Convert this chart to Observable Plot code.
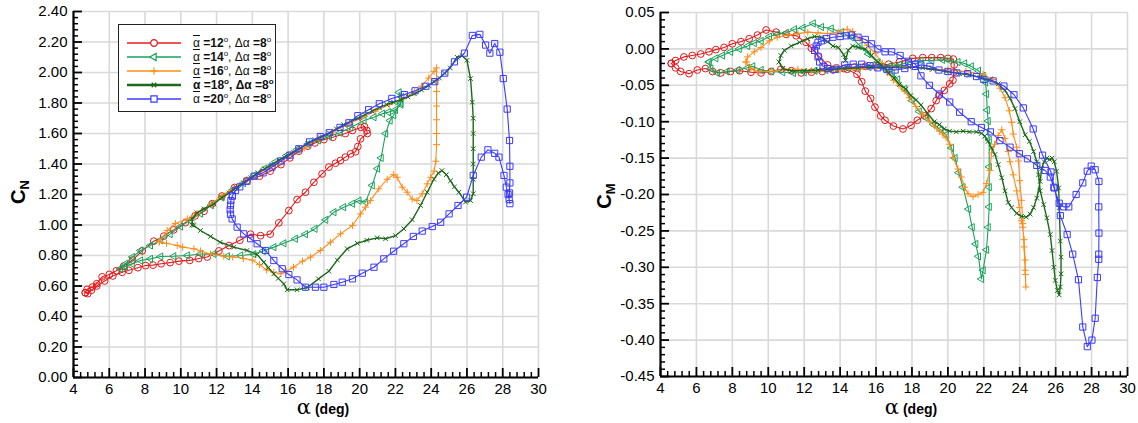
<!DOCTYPE html>
<html><head><meta charset="utf-8">
<script src="https://cdn.jsdelivr.net/npm/d3@7"></script>
<script src="https://cdn.jsdelivr.net/npm/@observablehq/plot@0.6"></script>
<style>
body{margin:0;background:#fff;}
#wrap{position:relative;width:1138px;height:423px;font-family:"Liberation Sans",Arial,sans-serif;}
.panel{position:absolute;top:0;}
#legend{position:absolute;left:118px;top:24px;width:156px;height:86px;border:1.5px solid #222;background:#fff;}
.row{position:absolute;left:0;height:14px;width:156px;}
.row svg{position:absolute;left:8px;top:0;}
.row .lab{position:absolute;left:74px;top:0;font-size:12px;line-height:14px;white-space:nowrap;color:#111;}
.ab{text-decoration:overline;}
.row sup{font-size:8px;vertical-align:top;line-height:8px;}
</style></head>
<body>
<div id="wrap">
  <div id="left" class="panel" style="left:0"></div>
  <div id="right" class="panel" style="left:569px"></div>
  <div id="legend"></div>
</div>
<script>
// ---------- axes / ticks ----------
const xDomain = [4, 30];
const xTicks = [4,6,8,10,12,14,16,18,20,22,24,26,28,30];
const yDomainN = [0, 2.4];
const yTicksN = [0,0.2,0.4,0.6,0.8,1.0,1.2,1.4,1.6,1.8,2.0,2.2,2.4];
const yDomainM = [-0.45, 0.05];
const yTicksM = [-0.45,-0.4,-0.35,-0.3,-0.25,-0.2,-0.15,-0.1,-0.05,0,0.05];

// ---------- series ----------
const meanAlpha = [12, 14, 16, 18, 20];
const colors = ["#e41a1c", "#19a35a", "#ff8c1a", "#1a6a1a", "#3b3bff"];

// C_N loops: [alpha, CN]
const loopN12 = [[4.66,0.556],[4.76,0.578],[5.06,0.593],[5.3,0.615],[5.6,0.66],[6.0,0.676],[6.4,0.70],[6.8,0.73],[7.3,0.77],[7.84,0.83],[8.49,0.894],[9.05,0.927],[9.6,0.968],[10.25,1.015],[10.8,1.06],[11.3,1.09],[11.76,1.14],[12.3,1.19],[13.0,1.245],[13.7,1.29],[14.4,1.32],[15.0,1.353],[15.6,1.396],[16.1,1.44],[16.6,1.484],[17.1,1.517],[17.5,1.538],[18.0,1.56],[18.5,1.575],[19.2,1.60],[19.6,1.62],[20.07,1.64],[20.27,1.645],[20.4,1.62],[20.43,1.60],[20.05,1.565],[19.9,1.515],[19.77,1.48],[19.5,1.467],[19.2,1.445],[18.93,1.423],[18.65,1.405],[18.28,1.38],[17.9,1.335],[17.44,1.28],[16.97,1.215],[16.5,1.167],[16.04,1.095],[15.48,1.014],[15.0,0.94],[14.46,0.93],[13.9,0.94],[13.3,0.90],[12.7,0.865],[12.13,0.83],[11.48,0.79],[11.0,0.78],[10.5,0.768],[9.89,0.763],[9.4,0.753],[8.9,0.746],[8.45,0.737],[8.03,0.734],[7.6,0.72],[7.1,0.703],[6.72,0.69],[6.2,0.666],[5.74,0.633],[5.3,0.60],[5.0,0.572],[4.8,0.55],[4.66,0.556]];
const loopN14 = [[6.63,0.713],[6.9,0.745],[7.3,0.79],[7.75,0.833],[8.3,0.866],[8.87,0.90],[9.4,0.94],[9.98,0.99],[10.5,1.03],[11.1,1.075],[11.7,1.13],[12.3,1.18],[12.9,1.23],[13.5,1.275],[14.1,1.325],[14.7,1.37],[15.3,1.415],[15.9,1.455],[16.5,1.495],[17.1,1.53],[17.7,1.555],[18.3,1.58],[18.9,1.605],[19.5,1.64],[20.24,1.685],[20.8,1.707],[21.27,1.73],[21.6,1.74],[22.0,1.755],[22.3,1.79],[22.35,1.84],[22.2,1.87],[22.3,1.80],[21.9,1.72],[21.7,1.685],[21.45,1.60],[21.2,1.44],[21.0,1.37],[20.7,1.26],[20.33,1.15],[19.96,1.16],[19.6,1.14],[19.1,1.117],[18.56,1.084],[18.1,1.034],[17.5,0.975],[16.97,0.94],[16.4,0.91],[15.76,0.88],[15.2,0.855],[14.6,0.83],[14.08,0.808],[13.34,0.80],[12.6,0.795],[11.85,0.81],[11.1,0.81],[10.36,0.80],[9.6,0.795],[8.87,0.793],[8.3,0.778],[7.75,0.767],[7.28,0.745],[6.9,0.728],[6.63,0.713]];
const loopN16 = [[8.8,0.89],[9.24,0.964],[9.7,1.01],[10.36,1.04],[10.9,1.075],[11.7,1.135],[12.3,1.19],[13.0,1.248],[13.7,1.298],[14.5,1.353],[15.3,1.40],[16.1,1.462],[16.9,1.505],[17.7,1.567],[18.5,1.61],[19.3,1.658],[20.07,1.70],[20.87,1.746],[21.66,1.79],[22.46,1.833],[23.06,1.872],[23.46,1.91],[23.86,1.964],[24.16,2.007],[24.3,2.03],[24.3,1.95],[24.3,1.876],[24.3,1.78],[24.3,1.69],[24.3,1.60],[24.3,1.527],[24.26,1.418],[24.16,1.353],[23.97,1.313],[23.78,1.27],[23.5,1.205],[23.2,1.16],[22.94,1.17],[22.66,1.215],[22.38,1.248],[22.1,1.313],[21.9,1.33],[21.54,1.30],[21.07,1.237],[20.6,1.16],[20.33,1.117],[20.05,1.073],[19.6,0.997],[18.93,0.942],[18.37,0.887],[17.8,0.833],[17.25,0.789],[16.8,0.763],[16.3,0.723],[15.9,0.695],[15.6,0.68],[15.2,0.69],[14.8,0.705],[14.4,0.74],[14.0,0.77],[13.5,0.78],[12.9,0.79],[12.4,0.796],[11.66,0.81],[11.1,0.83],[10.73,0.844],[10.1,0.855],[9.8,0.866],[9.2,0.88],[8.8,0.89]];
const loopN18 = [[10.64,1.0],[10.64,1.04],[10.9,1.08],[11.3,1.106],[11.85,1.138],[12.3,1.18],[12.7,1.21],[13.1,1.245],[13.5,1.277],[13.9,1.31],[14.3,1.342],[14.7,1.37],[15.1,1.396],[15.5,1.425],[15.9,1.451],[16.3,1.478],[16.7,1.505],[17.1,1.535],[17.5,1.56],[17.9,1.58],[18.3,1.604],[18.7,1.63],[19.1,1.658],[19.5,1.68],[19.9,1.70],[20.3,1.724],[20.7,1.746],[21.1,1.77],[21.5,1.79],[21.9,1.805],[22.3,1.822],[22.7,1.84],[23.06,1.86],[23.46,1.885],[23.86,1.915],[24.16,1.94],[24.46,1.964],[24.76,1.995],[25.06,2.03],[25.45,2.10],[25.73,2.11],[26.0,2.08],[26.2,1.96],[26.3,1.805],[26.35,1.70],[26.35,1.60],[26.35,1.50],[26.35,1.40],[26.35,1.30],[26.35,1.205],[26.2,1.16],[25.92,1.15],[25.55,1.215],[25.3,1.25],[25.08,1.29],[24.85,1.33],[24.6,1.357],[24.4,1.34],[24.15,1.30],[23.78,1.215],[23.4,1.128],[22.94,1.034],[22.47,0.975],[22.0,0.93],[21.45,0.91],[20.98,0.916],[20.4,0.90],[19.87,0.88],[19.3,0.844],[18.75,0.77],[18.28,0.697],[17.7,0.647],[17.07,0.59],[16.5,0.575],[15.95,0.575],[15.76,0.614],[15.45,0.65],[15.2,0.68],[14.9,0.72],[14.64,0.756],[14.27,0.806],[13.7,0.833],[12.96,0.855],[12.2,0.887],[11.66,0.925],[11.1,0.964],[10.73,0.997],[10.64,1.0]];
const loopN20 = [[12.88,1.19],[13.06,1.226],[13.3,1.25],[13.7,1.287],[14.1,1.32],[14.6,1.342],[15.1,1.38],[15.6,1.42],[16.1,1.458],[16.6,1.50],[17.2,1.545],[17.8,1.58],[18.3,1.605],[18.9,1.64],[19.4,1.67],[19.9,1.717],[20.5,1.756],[21.1,1.795],[21.8,1.83],[22.5,1.855],[23.1,1.88],[23.7,1.91],[24.2,1.94],[24.76,1.996],[25.3,2.07],[25.86,2.127],[26.3,2.243],[26.72,2.25],[27.04,2.18],[27.28,2.127],[27.55,2.19],[27.84,2.133],[28.03,1.96],[28.25,1.76],[28.38,1.554],[28.4,1.385],[28.4,1.276],[28.38,1.21],[28.36,1.167],[28.4,1.14],[28.3,1.20],[28.2,1.248],[28.07,1.325],[27.79,1.445],[27.55,1.47],[27.17,1.493],[26.8,1.445],[26.35,1.325],[25.98,1.182],[25.5,1.128],[25.0,1.073],[24.53,1.018],[24.06,0.99],[23.5,0.96],[23.0,0.925],[22.47,0.877],[21.9,0.828],[21.35,0.778],[20.8,0.723],[20.15,0.684],[19.6,0.647],[19.03,0.625],[18.56,0.61],[18.0,0.592],[17.53,0.592],[16.97,0.592],[16.5,0.64],[16.04,0.675],[15.67,0.713],[15.2,0.767],[14.74,0.833],[14.27,0.877],[13.9,0.91],[13.52,0.942],[13.15,0.986],[12.87,1.04],[12.78,1.07],[12.76,1.10],[12.78,1.13],[12.8,1.16],[12.88,1.19]];

// C_M loops: [alpha, CM]
const loopM12 = [[4.6,-0.02],[4.84,-0.026],[5.12,-0.031],[5.59,-0.034],[6.05,-0.029],[6.5,-0.027],[6.9,-0.031],[7.36,-0.033],[7.9,-0.031],[8.4,-0.030],[9.04,-0.032],[9.6,-0.033],[10.16,-0.031],[10.7,-0.028],[11.28,-0.030],[11.84,-0.033],[12.4,-0.032],[13.0,-0.031],[13.6,-0.029],[14.2,-0.027],[14.8,-0.025],[15.4,-0.024],[16.0,-0.023],[16.7,-0.021],[17.3,-0.018],[18.04,-0.013],[18.6,-0.012],[19.1,-0.012],[19.6,-0.012],[20.0,-0.013],[20.3,-0.014],[20.35,-0.022],[20.33,-0.032],[20.28,-0.043],[20.1,-0.048],[19.8,-0.057],[19.5,-0.064],[19.35,-0.071],[19.07,-0.082],[18.7,-0.092],[18.3,-0.098],[17.95,-0.105],[17.5,-0.11],[16.97,-0.106],[16.5,-0.098],[16.26,-0.092],[15.94,-0.080],[15.7,-0.068],[15.4,-0.058],[15.2,-0.045],[14.94,-0.035],[14.4,-0.028],[13.8,-0.026],[13.3,-0.022],[12.8,-0.01],[12.4,0.001],[12.1,0.009],[11.56,0.018],[11.0,0.020],[10.44,0.023],[9.88,0.026],[9.4,0.019],[8.94,0.014],[8.48,0.010],[8.0,0.007],[7.54,0.002],[7.08,-0.001],[6.7,-0.004],[6.24,-0.007],[5.77,-0.009],[5.3,-0.011],[4.84,-0.016],[4.6,-0.02]];
const loopM14 = [[6.7,-0.018],[6.8,-0.027],[7.17,-0.033],[7.7,-0.031],[8.3,-0.029],[8.85,-0.026],[9.13,-0.024],[9.6,-0.029],[10.16,-0.031],[10.8,-0.032],[11.4,-0.033],[12.0,-0.032],[12.6,-0.030],[13.2,-0.029],[13.8,-0.028],[14.4,-0.026],[15.0,-0.026],[15.6,-0.025],[16.2,-0.024],[16.8,-0.023],[17.3,-0.022],[17.85,-0.018],[18.5,-0.016],[19.1,-0.016],[19.7,-0.015],[20.1,-0.016],[20.56,-0.018],[20.93,-0.020],[21.3,-0.024],[21.7,-0.030],[21.96,-0.037],[22.1,-0.046],[22.15,-0.062],[22.19,-0.084],[22.24,-0.099],[22.3,-0.125],[22.3,-0.162],[22.3,-0.19],[22.3,-0.217],[22.24,-0.245],[22.15,-0.276],[21.96,-0.304],[21.87,-0.316],[21.7,-0.285],[21.55,-0.268],[21.35,-0.245],[21.15,-0.22],[20.84,-0.19],[20.6,-0.17],[20.4,-0.15],[20.2,-0.136],[19.9,-0.118],[19.6,-0.111],[19.2,-0.104],[18.8,-0.095],[18.4,-0.086],[18.0,-0.071],[17.6,-0.055],[17.2,-0.042],[16.9,-0.034],[16.6,-0.029],[16.1,-0.018],[15.57,-0.007],[15.1,0.004],[14.63,0.016],[14.07,0.023],[13.5,0.028],[12.96,0.030],[12.5,0.035],[11.93,0.029],[11.46,0.027],[11.0,0.022],[10.5,0.020],[10.06,0.017],[9.6,0.011],[9.22,0.008],[8.85,0.004],[8.38,0.0],[7.9,-0.004],[7.45,-0.009],[7.08,-0.013],[6.7,-0.018]];
const loopM16 = [[8.76,-0.018],[9.04,-0.027],[9.4,-0.031],[10.16,-0.031],[10.9,-0.028],[11.65,-0.028],[12.4,-0.030],[13.14,-0.031],[14.0,-0.029],[15.0,-0.028],[16.0,-0.026],[17.0,-0.025],[18.0,-0.025],[19.0,-0.027],[20.0,-0.029],[21.0,-0.031],[21.96,-0.035],[22.5,-0.042],[22.9,-0.054],[23.18,-0.067],[23.42,-0.085],[23.55,-0.101],[23.64,-0.117],[23.83,-0.135],[23.93,-0.154],[24.0,-0.181],[24.1,-0.208],[24.17,-0.24],[24.24,-0.272],[24.3,-0.304],[24.34,-0.327],[24.32,-0.31],[24.3,-0.29],[24.24,-0.262],[24.17,-0.245],[24.1,-0.236],[23.98,-0.218],[23.83,-0.195],[23.64,-0.173],[23.46,-0.155],[23.36,-0.141],[23.18,-0.123],[23.0,-0.111],[22.8,-0.119],[22.6,-0.131],[22.43,-0.143],[22.34,-0.167],[22.15,-0.185],[21.96,-0.197],[21.68,-0.20],[21.4,-0.203],[21.12,-0.199],[20.93,-0.19],[20.75,-0.176],[20.56,-0.165],[20.28,-0.149],[20.1,-0.131],[19.9,-0.122],[19.72,-0.117],[19.53,-0.113],[19.25,-0.106],[18.97,-0.099],[18.6,-0.09],[18.22,-0.079],[17.85,-0.067],[17.57,-0.058],[17.28,-0.05],[16.97,-0.043],[16.65,-0.033],[16.35,-0.02],[15.95,-0.006],[15.5,0.005],[15.1,0.014],[14.7,0.024],[14.4,0.027],[13.9,0.023],[13.3,0.021],[12.77,0.022],[12.2,0.023],[11.65,0.021],[11.1,0.019],[10.5,0.016],[10.06,0.011],[9.6,0.002],[9.22,-0.004],[8.85,-0.011],[8.76,-0.018]];
const loopM18 = [[10.6,-0.018],[10.8,-0.027],[11.28,-0.030],[12.0,-0.030],[12.77,-0.029],[13.5,-0.028],[14.26,-0.027],[15.0,-0.026],[15.75,-0.025],[16.5,-0.026],[17.2,-0.025],[17.85,-0.025],[18.6,-0.026],[19.16,-0.028],[19.9,-0.031],[20.65,-0.034],[21.2,-0.036],[21.78,-0.039],[22.34,-0.043],[22.8,-0.048],[23.18,-0.057],[23.46,-0.068],[23.74,-0.082],[24.0,-0.10],[24.3,-0.118],[24.54,-0.127],[24.77,-0.141],[24.95,-0.155],[25.05,-0.173],[25.14,-0.195],[25.33,-0.214],[25.51,-0.232],[25.7,-0.255],[25.8,-0.277],[25.9,-0.30],[25.98,-0.318],[26.1,-0.332],[26.2,-0.338],[26.26,-0.327],[26.3,-0.309],[26.3,-0.286],[26.26,-0.264],[26.2,-0.218],[26.17,-0.191],[26.05,-0.168],[25.92,-0.155],[25.8,-0.15],[25.66,-0.152],[25.51,-0.15],[25.36,-0.155],[25.22,-0.164],[25.14,-0.182],[24.95,-0.205],[24.77,-0.218],[24.58,-0.227],[24.36,-0.231],[24.1,-0.23],[23.83,-0.226],[23.55,-0.218],[23.36,-0.211],[23.18,-0.195],[23.0,-0.177],[22.8,-0.159],[22.62,-0.145],[22.43,-0.136],[22.24,-0.127],[22.05,-0.12],[21.87,-0.116],[21.59,-0.114],[21.2,-0.114],[20.85,-0.113],[20.47,-0.114],[20.1,-0.113],[19.8,-0.11],[19.53,-0.104],[19.25,-0.10],[18.88,-0.089],[18.5,-0.077],[18.22,-0.07],[17.94,-0.064],[17.66,-0.055],[17.3,-0.049],[17.0,-0.04],[16.7,-0.033],[16.3,-0.022],[16.1,-0.018],[15.75,-0.009],[15.4,0.0],[15.0,0.002],[14.7,0.004],[14.45,-0.002],[14.3,-0.016],[14.2,-0.008],[13.9,0.002],[13.6,0.004],[13.3,0.010],[12.96,0.016],[12.58,0.017],[12.2,0.014],[11.74,0.009],[11.28,0.004],[10.9,-0.002],[10.7,-0.009],[10.6,-0.018]];
const loopM20 = [[12.58,-0.002],[12.77,-0.011],[12.86,-0.018],[13.05,-0.024],[13.3,-0.027],[13.7,-0.028],[14.26,-0.022],[14.73,-0.021],[15.2,-0.021],[15.66,-0.023],[16.1,-0.026],[16.6,-0.028],[17.06,-0.029],[17.6,-0.027],[18.2,-0.024],[18.5,-0.022],[19.0,-0.024],[19.5,-0.029],[20.0,-0.031],[20.5,-0.033],[21.1,-0.034],[21.6,-0.038],[22.0,-0.042],[22.52,-0.044],[23.12,-0.051],[23.68,-0.063],[24.2,-0.081],[24.75,-0.11],[25.27,-0.146],[25.74,-0.169],[25.93,-0.191],[26.26,-0.229],[26.64,-0.255],[26.95,-0.282],[27.27,-0.317],[27.51,-0.382],[27.76,-0.409],[28.02,-0.40],[28.2,-0.37],[28.32,-0.314],[28.4,-0.289],[28.4,-0.282],[28.41,-0.253],[28.4,-0.217],[28.41,-0.182],[28.2,-0.166],[27.98,-0.161],[27.76,-0.168],[27.51,-0.184],[27.14,-0.20],[26.73,-0.217],[26.45,-0.217],[26.2,-0.212],[25.9,-0.19],[25.7,-0.176],[25.42,-0.167],[24.95,-0.16],[24.43,-0.151],[23.98,-0.144],[23.46,-0.135],[22.9,-0.126],[22.37,-0.114],[21.87,-0.108],[21.3,-0.10],[20.65,-0.087],[20.1,-0.073],[19.53,-0.062],[18.97,-0.05],[18.5,-0.037],[18.2,-0.021],[17.8,-0.017],[17.34,-0.009],[16.87,-0.004],[16.5,-0.004],[16.1,0.0],[15.75,0.007],[15.4,0.013],[15.0,0.016],[14.63,0.019],[14.35,0.018],[14.0,0.017],[13.6,0.016],[13.24,0.014],[12.96,0.011],[12.77,0.009],[12.67,0.004],[12.58,-0.002]];

const loopsN = [loopN12, loopN14, loopN16, loopN18, loopN20];
const loopsM = [loopM12, loopM14, loopM16, loopM18, loopM20];

// marker styling per series
const styles = [
  {symbol:"circle", r:3.4, rotate:0, lw:1.1},
  {symbol:"triangle", r:2.7, rotate:-90, lw:1.1},
  {symbol:"plus", r:2.4, rotate:0, lw:1.1},
  {symbol:"times", r:2.2, rotate:0, lw:1.4},
  {symbol:"square", r:3.5, rotate:0, lw:1.1}
];

const FONT = '"Liberation Sans", Arial, sans-serif';

function seriesMarks(loops) {
  const marks = [];
  loops.forEach((loop, i) => {
    const rows = loop.map(([a, v]) => ({a, v}));
    const st = styles[i];
    marks.push(Plot.line(rows, {x:"a", y:"v", stroke: colors[i], strokeWidth: st.lw}));
    marks.push(Plot.dot(rows, {x:"a", y:"v", symbol: st.symbol, r: st.r, rotate: st.rotate, stroke: colors[i], fill:"none", strokeWidth: 1}));
  });
  return marks;
}

function makePanel(opts) {
  const {width, height, mt, mr, mb, ml, yDomain, yTicks, yMinorStep, loops} = opts;
  const innerW = width - ml - mr, innerH = height - mt - mb;
  const xMinor = d3.range(xDomain[0], xDomain[1] + 1e-9, 0.4).filter(v => Math.abs(v/2 - Math.round(v/2)) > 1e-6);
  const yMajorStep = yTicks[1] - yTicks[0];
  const yMinor = d3.range(yDomain[0], yDomain[1] + 1e-9, yMinorStep).filter(v => {
    const k = (v - yDomain[0]) / yMajorStep; return Math.abs(k - Math.round(k)) > 1e-6;
  });
  const fmt = d => (Math.abs(d) < 1e-9 ? 0 : d).toFixed(2);
  return Plot.plot({
    width, height, marginTop: mt, marginRight: mr, marginBottom: mb, marginLeft: ml,
    x: {domain: xDomain},
    y: {domain: yDomain},
    style: {fontFamily: FONT, fontSize: "15px", background: "#fff", color: "#000", overflow: "visible"},
    marks: [
      Plot.gridX(xTicks, {stroke: "#d9d9d9", strokeOpacity: 1, strokeWidth: 1.6}),
      Plot.gridY(yTicks, {stroke: "#d9d9d9", strokeOpacity: 1, strokeWidth: 1.6}),
      ...seriesMarks(loops),
      Plot.tickX(xMinor, {x: d => d, stroke: "#000", strokeWidth: 1.5, insetTop: innerH - 5}),
      Plot.tickX(xTicks, {x: d => d, stroke: "#000", strokeWidth: 1.8, insetTop: innerH - 9}),
      Plot.tickY(yMinor, {y: d => d, stroke: "#000", strokeWidth: 1.5, insetRight: innerW - 5}),
      Plot.tickY(yTicks, {y: d => d, stroke: "#000", strokeWidth: 1.8, insetRight: innerW - 9}),
      Plot.ruleX([xDomain[0]], {stroke: "#000", strokeWidth: 2.2}),
      Plot.ruleY([yDomain[0]], {stroke: "#000", strokeWidth: 2.2}),
      Plot.axisX(xTicks, {tickSize: 0, tickPadding: 6, tickFormat: d => String(d), label: null, fontSize: 15}),
      Plot.axisY(yTicks, {tickSize: 0, tickPadding: 6, tickFormat: fmt, label: null, fontSize: 15})
    ]
  });
}

function addTitles(svg, o) {
  const s = d3.select(svg);
  const cy = s.append("text").attr("transform", `translate(${o.yx},${o.yy}) rotate(-90)`)
    .attr("text-anchor", "middle").attr("font-weight", "bold").attr("fill", "#000").attr("font-family", FONT);
  cy.append("tspan").attr("font-size", 20).text("C");
  cy.append("tspan").attr("font-size", 13).attr("dy", 4).text(o.sub);
  const cx = s.append("text").attr("x", o.xx).attr("y", o.xy).attr("text-anchor", "middle").attr("fill", "#000").attr("font-family", FONT);
  cx.append("tspan").attr("font-size", 21).attr("font-family", '"DejaVu Serif", serif').text("α");
  cx.append("tspan").attr("font-size", 14).attr("font-weight", "bold").text(" (deg)");
}

const left = makePanel({width: 569, height: 423, mt: 11, mr: 31, mb: 46, ml: 73, yDomain: yDomainN, yTicks: yTicksN, yMinorStep: 0.04, loops: loopsN});
document.getElementById("left").appendChild(left);
addTitles(left, {yx: 25, yy: 192, sub: "N", xx: 323, xy: 414});

const right = makePanel({width: 569, height: 423, mt: 12, mr: 11, mb: 47, ml: 91, yDomain: yDomainM, yTicks: yTicksM, yMinorStep: 0.01, loops: loopsM});
document.getElementById("right").appendChild(right);
addTitles(right, {yx: 42, yy: 196, sub: "M", xx: 342, xy: 414});

// ---------- legend ----------
const symbolTypes = {circle: d3.symbolCircle, triangle: d3.symbolTriangle, plus: d3.symbolPlus, times: d3.symbolTimes, square: d3.symbolSquare};
const legend = d3.select("#legend");
meanAlpha.forEach((m, i) => {
  const st = styles[i];
  const row = legend.append("div").attr("class", "row").style("top", (10.5 + 14 * i) + "px");
  const sv = row.append("svg").attr("width", 56).attr("height", 14);
  sv.append("line").attr("x1", 0).attr("x2", 54).attr("y1", 7).attr("y2", 7)
    .attr("stroke", colors[i]).attr("stroke-width", i === 3 ? 2.4 : 1.4);
  sv.append("path").attr("d", d3.symbol(symbolTypes[st.symbol], Math.PI * st.r * st.r)())
    .attr("transform", `translate(27,7) rotate(${st.rotate})`)
    .attr("fill", "#fff").attr("stroke", colors[i]).attr("stroke-width", 1.2);
  const lab = row.append("div").attr("class", "lab");
  if (i === 3) lab.style("font-weight", "bold");
  lab.html(`<span class="ab">α</span> <b>=${m}</b><sup>o</sup>, Δα <b>=8</b><sup>o</sup>`);
});
</script>
</body></html>
